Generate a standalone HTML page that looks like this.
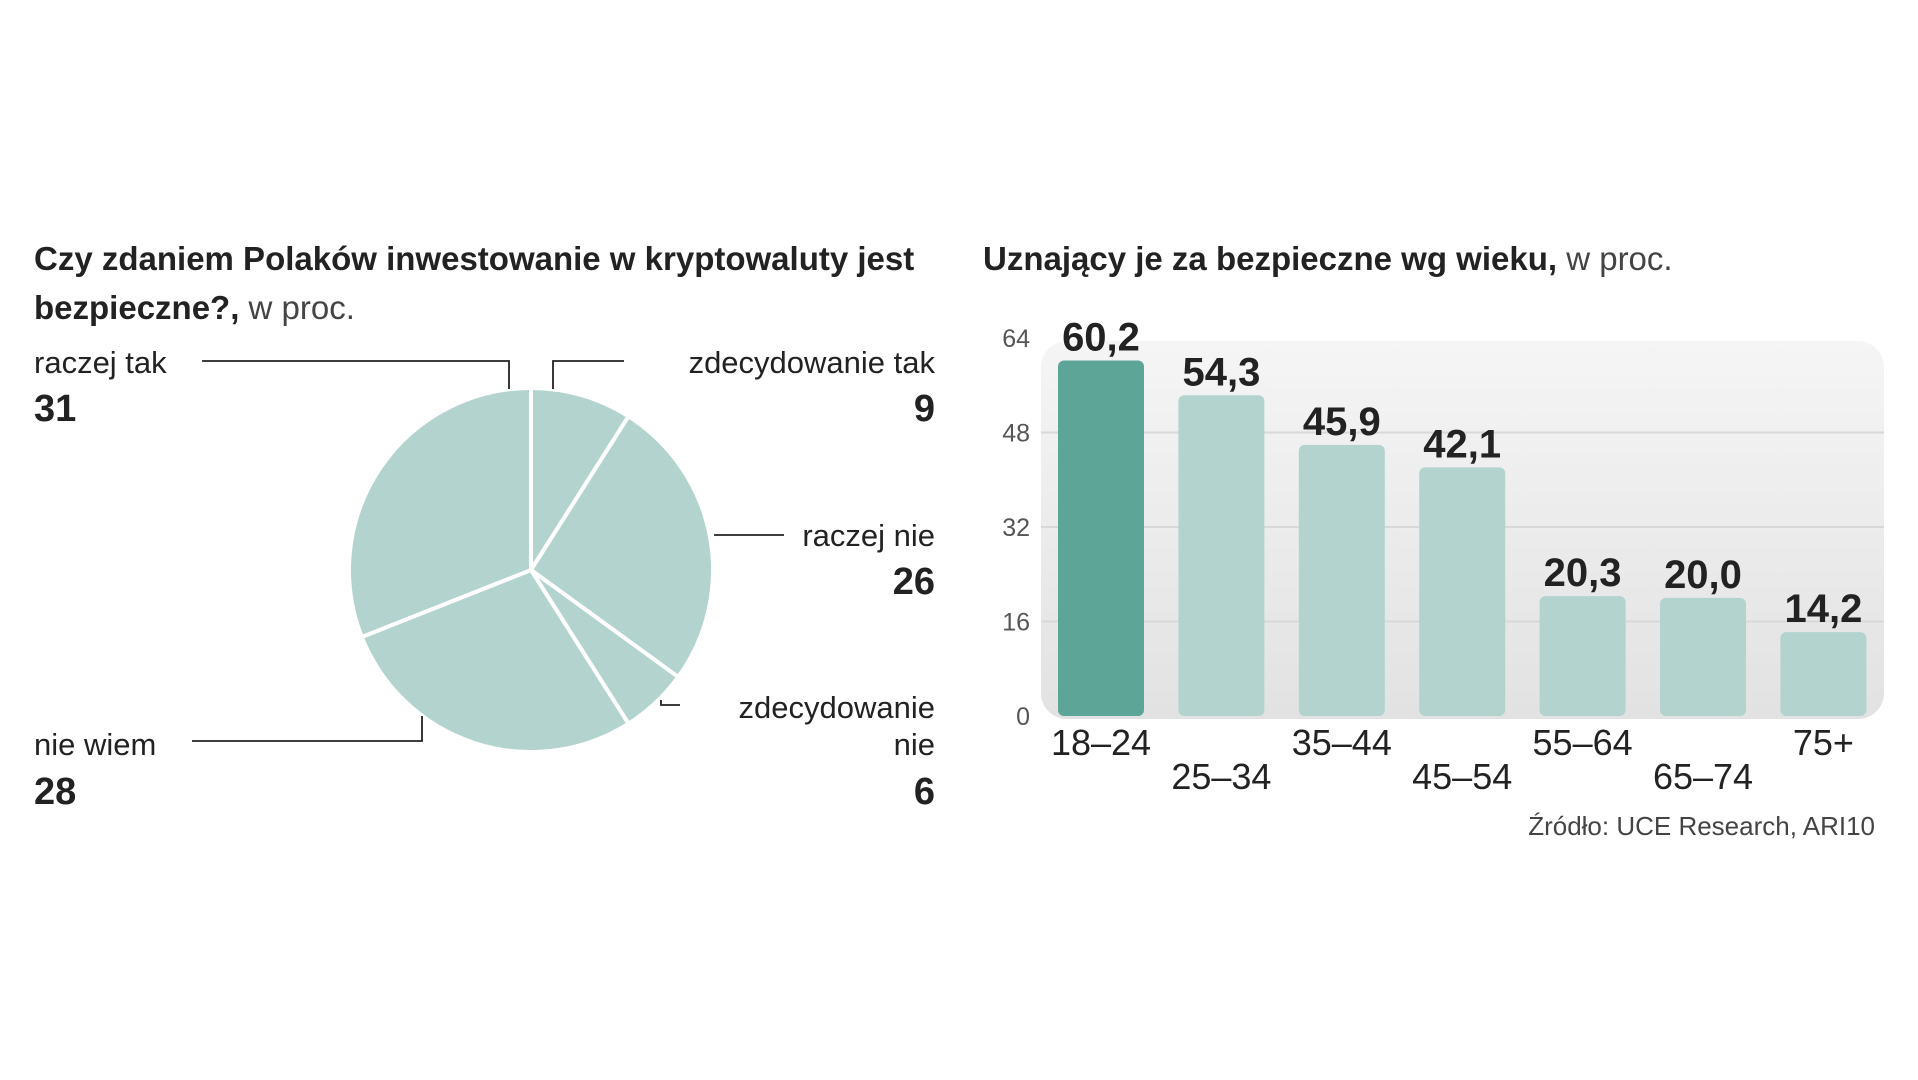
<!DOCTYPE html>
<html><head><meta charset="utf-8">
<style>
html,body{margin:0;padding:0;background:#fff;}
svg{display:block;}
text{font-family:"Liberation Sans Narrow","Liberation Sans",sans-serif;fill:#222;}
.b{font-weight:bold;}
</style></head>
<body>
<svg id="chart" width="1918" height="1080" viewBox="0 0 1918 1080" xmlns="http://www.w3.org/2000/svg">
<defs>
<linearGradient id="bg" x1="0" y1="0" x2="0" y2="1">
<stop offset="0" stop-color="#f5f5f5"/><stop offset="1" stop-color="#e2e2e2"/>
</linearGradient>
</defs>
<text x="34" y="270" font-size="33" class="b">Czy zdaniem Polaków inwestowanie w kryptowaluty jest</text>
<text x="34" y="319" font-size="33"><tspan class="b">bezpieczne?,</tspan><tspan fill="#444"> w proc.</tspan></text>
<g id="pie"></g>
<g stroke="#222" stroke-width="1.8" fill="none">
<polyline points="202,361 509,361 509,389"/>
<polyline points="624,361 553,361 553,389"/>
<polyline points="714,535 784,535"/>
<polyline points="661,700 661,705 680,705"/>
<polyline points="192,741 422,741 422,716"/>
</g>
<g font-size="31">
<text x="34" y="373">raczej tak</text>
<text x="34" y="421" font-size="38" class="b">31</text>
<text x="935" y="373" text-anchor="end">zdecydowanie tak</text>
<text x="935" y="421" font-size="38" class="b" text-anchor="end">9</text>
<text x="935" y="546" text-anchor="end">raczej nie</text>
<text x="935" y="594" font-size="38" class="b" text-anchor="end">26</text>
<text x="935" y="718" text-anchor="end">zdecydowanie</text>
<text x="935" y="755" text-anchor="end">nie</text>
<text x="935" y="804" font-size="38" class="b" text-anchor="end">6</text>
<text x="34" y="755">nie wiem</text>
<text x="34" y="804" font-size="38" class="b">28</text>
</g>

<text x="983" y="270" font-size="33"><tspan class="b">Uznający je za bezpieczne wg wieku,</tspan><tspan fill="#444"> w proc.</tspan></text>
<rect x="1041" y="341" width="843" height="378" rx="26" fill="url(#bg)"/>
<g id="grid"></g>
<g id="bars"></g>
<text x="1875" y="835" font-size="26" fill="#444" text-anchor="end" style="fill:#444">Źródło: UCE Research, ARI10</text>
</svg>
<script>
const pieLabels = ["zdecydowanie tak","raczej nie","zdecydowanie nie","nie wiem","raczej tak"];
const pieValues = [9,26,6,28,31];
const categories = ["18–24","25–34","35–44","45–54","55–64","65–74","75+"];
const values = [60.2,54.3,45.9,42.1,20.3,20.0,14.2];
const valueLabels = ["60,2","54,3","45,9","42,1","20,3","20,0","14,2"];
const ticks = [0,16,32,48,64];

const NS="http://www.w3.org/2000/svg";
function mk(tag,attrs,parent){const e=document.createElementNS(NS,tag);for(const k in attrs)e.setAttribute(k,attrs[k]);parent.appendChild(e);return e;}

// pie
const pie=document.getElementById('pie');
const cx=531,cy=570,r=182;
const total=pieValues.reduce((a,b)=>a+b,0);
let ang=0;
pieValues.forEach((v,i)=>{
  const a0=ang/total*2*Math.PI, a1=(ang+v)/total*2*Math.PI; ang+=v;
  const x0=cx+r*Math.sin(a0),y0=cy-r*Math.cos(a0),x1=cx+r*Math.sin(a1),y1=cy-r*Math.cos(a1);
  const large=(a1-a0)>Math.PI?1:0;
  const p=mk('path',{d:`M${cx},${cy} L${x0},${y0} A${r},${r} 0 ${large} 1 ${x1},${y1} Z`,fill:'#b3d3ce',stroke:'#fff','stroke-width':4,'stroke-linejoin':'round'},pie);
  
  
});

// bars
const y0=716,y64=338,x0=1058,step=120.4,bw=86;
const yS=v=>y0-(v-0)/(64-0)*(y0-y64);
const grid=document.getElementById('grid');
ticks.forEach(t=>{
  if(t>0&&t<64){const l=mk('line',{x1:1041,x2:1884,y1:yS(t),y2:yS(t),stroke:'#d8d8d8','stroke-width':2},grid);
  
  }
  const tx=mk('text',{x:1030,y:yS(t)+9,'font-size':25,'text-anchor':'end',style:'fill:#555'},grid);
  tx.textContent=t;
  
  
});
const bars=document.getElementById('bars');
values.forEach((v,i)=>{
  const x=x0+i*step, top=yS(v);
  const b=mk('rect',{x:x,y:top,width:bw,height:y0-top,rx:6,fill:i===0?'#5da597':'#b3d3ce'},bars);
  
  
  const vl=mk('text',{x:x+bw/2,y:top-10,'font-size':40,'font-weight':'bold','text-anchor':'middle'},bars);
  vl.textContent=valueLabels[i];
  
  
  const cl=mk('text',{x:x+bw/2,y:i%2===0?755:789,'font-size':36,'text-anchor':'middle',style:'font-family:"Liberation Sans",sans-serif'},bars);
  cl.textContent=categories[i];
  
  
});
</script>
</body></html>
